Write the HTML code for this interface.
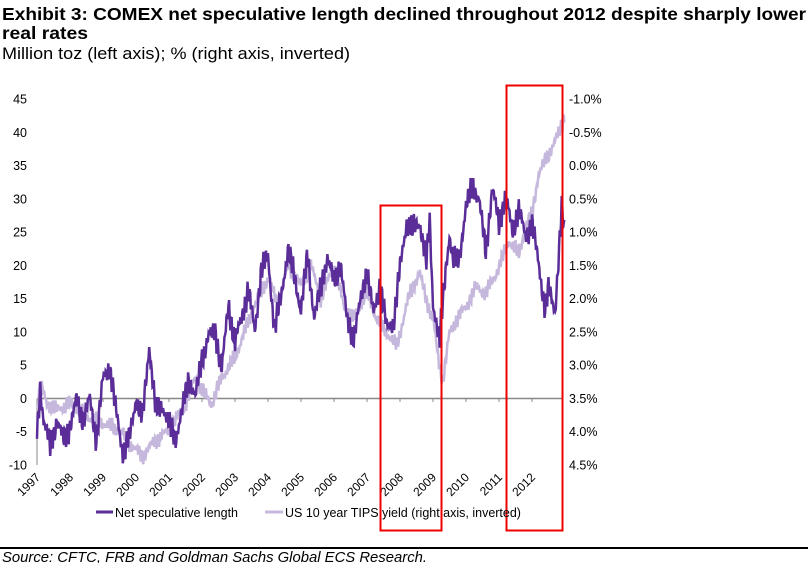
<!DOCTYPE html>
<html><head><meta charset="utf-8"><style>
body{margin:0;background:#fff;width:808px;height:563px;overflow:hidden;font-family:"Liberation Sans",Arial,sans-serif}
</style></head><body>
<svg id="s" width="808" height="563" xmlns="http://www.w3.org/2000/svg" font-family="Liberation Sans, Arial, sans-serif">
<text x="2" y="20" font-size="17.5" font-weight="bold" textLength="804" lengthAdjust="spacingAndGlyphs">Exhibit 3: COMEX net speculative length declined throughout 2012 despite sharply lower</text>
<text x="2" y="39" font-size="17.5" font-weight="bold" textLength="86" lengthAdjust="spacingAndGlyphs">real rates</text>
<text x="2" y="59" font-size="17" textLength="348" lengthAdjust="spacingAndGlyphs">Million toz (left axis); % (right axis, inverted)</text>
<g id="g"></g>
<line x1="0" y1="548" x2="808" y2="548" stroke="#000" stroke-width="2"/>
<text x="2" y="562" font-size="14.5" font-style="italic" textLength="425" lengthAdjust="spacingAndGlyphs">Source: CFTC, FRB and Goldman Sachs Global ECS Research.</text>
</svg>
<script>
var g=document.getElementById('g'),h='';
function X(t){return 37+(t-1997)*33;}
function Y(v){return 398.5-v*6.655;}
var lt=['45','40','35','30','25','20','15','10','5','0','-5','-10'];
var rt=['-1.0%','-0.5%','0.0%','0.5%','1.0%','1.5%','2.0%','2.5%','3.0%','3.5%','4.0%','4.5%'];
for(var i=0;i<12;i++){var y=99+i*33.27;
h+='<text x="27" y="'+(y+4.5)+'" font-size="12.5" text-anchor="end">'+lt[i]+'</text>';
h+='<text x="569" y="'+(y+4.5)+'" font-size="12.5">'+rt[i]+'</text>';}
h+='<line x1="37" y1="398.5" x2="563" y2="398.5" stroke="#888" stroke-width="1.5"/>';
h+='<line x1="37" y1="398.5" x2="37" y2="465" stroke="#888" stroke-width="1"/>';
for(var yr=1997;yr<=2012;yr++){var x=X(yr);
h+='<line x1="'+x+'" y1="398.5" x2="'+x+'" y2="402" stroke="#888"/>';
h+='<text transform="translate('+(x+4)+',478) rotate(-45)" font-size="12" text-anchor="end">'+yr+'</text>';}
function ser(p,amp,seed){var d='';var k=0;
for(var t=1997;t<=2012.98;t+=0.02){
while(k<p.length-2&&p[k+1][0]<t)k++;
var a=p[k],b=p[k+1],f=(t-a[0])/(b[0]-a[0]);f=Math.max(0,Math.min(1,f));
var v=a[1]+(b[1]-a[1])*f+amp*(Math.sin(t*91+seed)*0.45+Math.sin(t*237+seed*2)*0.3+Math.sin(t*613+seed*5)*0.25+Math.sin(t*1571+seed)*0.2);
d+=(d?'L':'M')+X(t).toFixed(1)+','+Y(v).toFixed(1);}
return d;}
var dk=[[1997,-5],[1997.1,2],[1997.2,-3],[1997.4,-7],[1997.6,-3],[1997.8,-6],[1998,-4],[1998.2,0],[1998.4,-3],[1998.6,0],[1998.8,-6],[1999,3],[1999.2,5],[1999.4,-2],[1999.6,-8],[1999.8,-6],[2000,0],[2000.2,-3],[2000.4,8],[2000.6,-2],[2000.8,-1],[2001,-4],[2001.2,-6],[2001.4,-2],[2001.6,3],[2001.8,0],[2002,6],[2002.2,9],[2002.4,10],[2002.6,4],[2002.8,14],[2003,8],[2003.2,12],[2003.4,16],[2003.6,10],[2003.8,19],[2004,21],[2004.2,10],[2004.4,15],[2004.6,22],[2004.8,18],[2005,13],[2005.2,21],[2005.4,12],[2005.6,16],[2005.8,21],[2006,17],[2006.2,20],[2006.4,11],[2006.6,9],[2006.8,14],[2007,19],[2007.2,12],[2007.4,17],[2007.6,10],[2007.8,11],[2008,19],[2008.2,26],[2008.4,25],[2008.6,26],[2008.8,20],[2008.9,26],[2009,14],[2009.2,8],[2009.4,20],[2009.5,24],[2009.6,20],[2009.8,21],[2010,28],[2010.2,32],[2010.4,29],[2010.6,22],[2010.8,31],[2011,26],[2011.2,30],[2011.4,25],[2011.6,28],[2011.8,24],[2012,26],[2012.2,20],[2012.4,13],[2012.5,16],[2012.7,13],[2012.9,28],[2013,24]];
var lg=[[1997,-2],[1997.1,2],[1997.3,-1],[1997.6,-2],[1998,-1],[1998.5,-3],[1999,-4],[1999.5,-5],[1999.8,-7],[2000,-8],[2000.2,-9],[2000.5,-7],[2001,-5],[2001.5,-1],[2001.8,3],[2002,1],[2002.3,-1],[2002.6,3],[2003,6],[2003.3,10],[2003.6,14],[2004,18],[2004.3,14],[2004.6,20],[2005,17],[2005.3,20],[2005.6,15],[2006,20],[2006.3,14],[2006.6,12],[2007,16],[2007.3,12],[2007.6,10],[2007.9,8],[2008,10],[2008.3,16],[2008.6,19],[2008.8,15],[2009,12],[2009.2,5],[2009.3,3],[2009.5,10],[2009.7,12],[2010,14],[2010.3,17],[2010.6,16],[2011,20],[2011.3,24],[2011.6,22],[2011.8,26],[2012,28],[2012.2,34],[2012.5,37],[2012.8,40],[2013,43]];
h+='<path d="'+ser(lg,1.5,3)+'" fill="none" stroke="#c6b8dd" stroke-width="2.5"/>';
h+='<path d="'+ser(dk,2.4,1)+'" fill="none" stroke="#5b2d98" stroke-width="2.5"/>';
h+='<rect x="380.5" y="205.5" width="61" height="325" fill="none" stroke="#e00" stroke-width="2"/>';
h+='<rect x="506.5" y="85.5" width="56" height="445" fill="none" stroke="#e00" stroke-width="2"/>';
h+='<line x1="96" y1="512" x2="113" y2="512" stroke="#5b2d98" stroke-width="3"/><text x="115" y="517" font-size="12.5">Net speculative length</text>';
h+='<line x1="265" y1="512" x2="283" y2="512" stroke="#c6b8dd" stroke-width="3"/><text x="285" y="517" font-size="12.5">US 10 year TIPS yield (right axis, inverted)</text>';
g.innerHTML=h;
</script>
</body></html>
